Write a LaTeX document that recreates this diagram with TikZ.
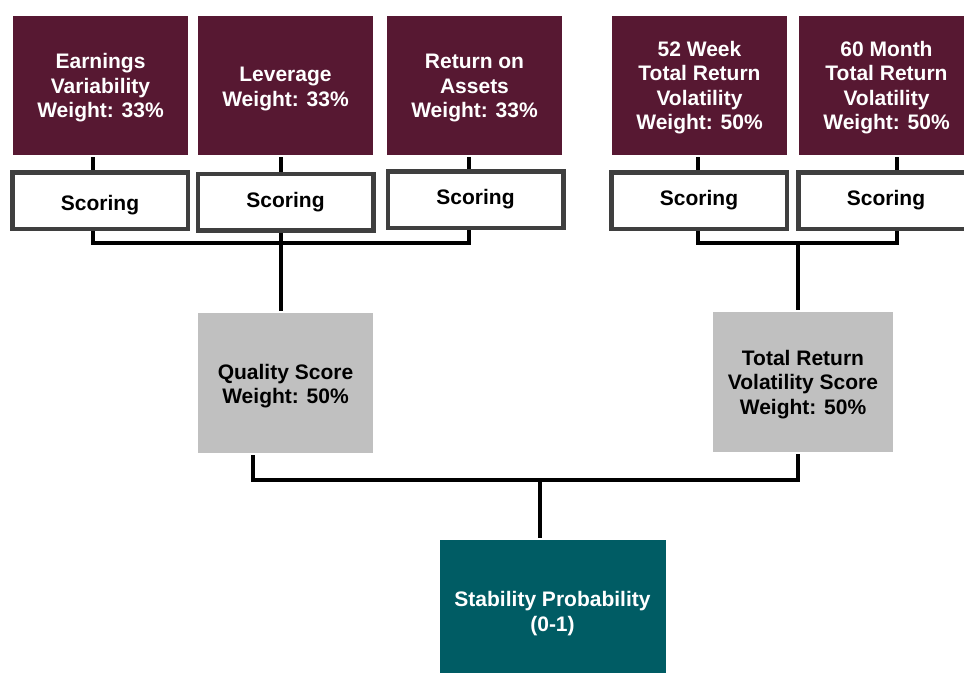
\documentclass[tikz,border=0pt]{standalone}
\usepackage{fontspec}
\setmainfont{Liberation Sans}
\definecolor{maroon}{HTML}{571832}
\definecolor{petrol}{HTML}{005C64}
\definecolor{scoregray}{HTML}{C0C0C0}
\definecolor{rim}{HTML}{3F3F3F}
\tikzset{lift/.style={execute at begin node={\rule{0pt}{#1}}}} % pushes the text down a little
\begin{document}
\begin{tikzpicture}[x = 1pt, y = -1pt, % one unit per pixel, y down
                line width = 4pt, % connector width
                font = \bfseries\fontsize{21}{24.5}\selectfont
            ]

            \tikzstyle{every node}=[inner sep = 0pt, align = center]
            \tikzstyle{factor}=[fill = maroon, text = white,
            minimum width = 175pt, minimum height = 139pt]
            \tikzstyle{scoring}=[draw = rim, line width = 4.5pt, fill = white,
            minimum width = 175.5pt, minimum height = 56.5pt]
            \tikzstyle{score}=[fill = scoregray, minimum height = 140pt]

            \useasboundingbox (0,0) rectangle (964,673);

            % inputs
            \node[factor, lift = 69pt] (earn) at (100.5,85.5) {Earnings\\Variability\\Weight: 33\%};
            \node[factor, lift = 45.5pt] (lev) at (285.5,85.5) {Leverage\\Weight: 33\%};
            \node[factor, lift = 68.5pt] (roa) at (474.5,85.5) {Return on\\Assets\\Weight: 33\%};
            \node[factor, lift = 93pt] (wk) at (699.5,85.5) {52 Week\\Total Return\\Volatility\\Weight: 50\%};
            \node[factor, lift = 93pt] (mo) at (886.5,85.5) {60 Month\\Total Return\\Volatility\\Weight: 50\%};

            \node[scoring, lift = 23.5pt] (s1) at (100,200.5) {Scoring};
            \node[scoring] (s2) at (285.5,202) {Scoring};
            \node[scoring] (s3) at (475.5,199.5) {Scoring};
            \node[scoring] (s4) at (699,200.5) {Scoring};
            \node[scoring] (s5) at (886,200.5) {Scoring};

            \node[score, minimum width = 175pt, lift = 45.5pt] (qual) at (285.5,383) {Quality Score\\Weight: 50\%};
            \node[score, minimum width = 180pt, lift = 69pt] (tot) at (803,382) {Total Return\\Volatility Score\\Weight: 50\%};
            \node[fill = petrol, text = white, minimum width = 226pt,
            minimum height = 133pt, lift = 54pt] (stab) at (552.5,606.5) {Stability Probability\\(0-1)};

            % connector columns
            \coordinate (c1) at (93,0); \coordinate (c2) at (281,0);
            \coordinate (c3) at (469,0); \coordinate (c4) at (698,0);
            \coordinate (c5) at (897,0); \coordinate (cq) at (253,0);
            \coordinate (qbus) at (281,243); \coordinate (tbus) at (798,243);
            \coordinate (sbus) at (540,480);

            \path[draw] (earn.south -| c1) -- (s1.north -| c1);
            \path[draw] (lev.south -| c2) -- (s2.north -| c2);
            \path[draw] (roa.south -| c3) -- (s3.north -| c3);
            \path[draw] (wk.south -| c4) -- (s4.north -| c4);
            \path[draw] (mo.south -| c5) -- (s5.north -| c5);

            \draw (s1.south -| c1) |- (qbus) -| (s3.south -| c3);
            \draw (s2.south -| qbus) -- (qual.north -| qbus);
            \draw (s4.south -| c4) |- (tbus) -| (s5.south -| c5);
            \draw (tbus) -- (tot.north -| tbus);

            \draw (qual.south -| cq) |- (sbus) -| (tot.south -| tbus);
            \draw (sbus) -- (stab.north -| sbus);
\end{tikzpicture}
\end{document}
